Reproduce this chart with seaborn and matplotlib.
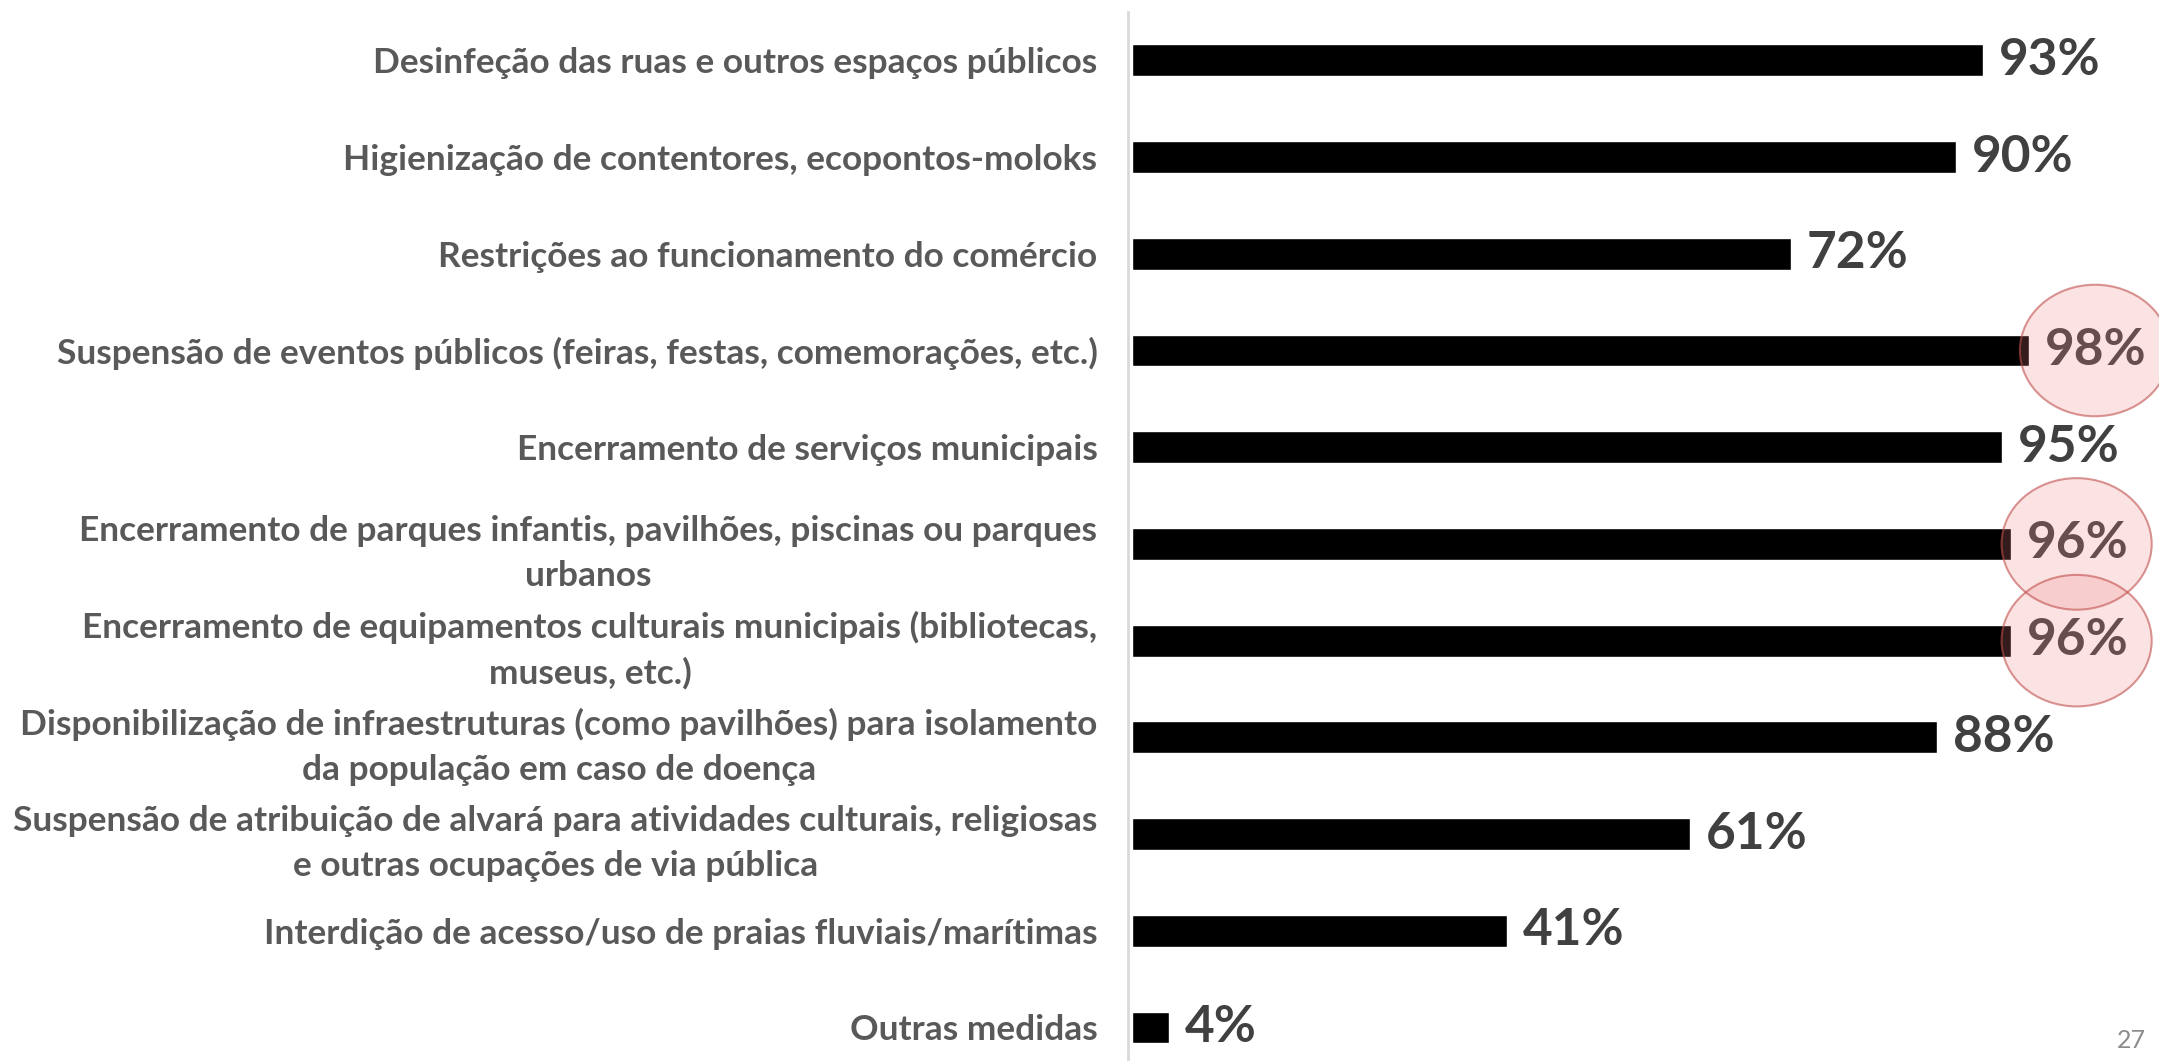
import matplotlib
matplotlib.use("Agg")
import matplotlib.pyplot as plt
from matplotlib.patches import Ellipse
import seaborn as sns
import pandas as pd

medidas = [
    "Desinfeção das ruas e outros espaços públicos",
    "Higienização de contentores, ecopontos-moloks",
    "Restrições ao funcionamento do comércio",
    "Suspensão de eventos públicos (feiras, festas, comemorações, etc.)",
    "Encerramento de serviços municipais",
    "Encerramento de parques infantis, pavilhões, piscinas ou parques\nurbanos",
    "Encerramento de equipamentos culturais municipais (bibliotecas,\nmuseus, etc.)",
    "Disponibilização de infraestruturas (como pavilhões) para isolamento\nda população em caso de doença",
    "Suspensão de atribuição de alvará para atividades culturais, religiosas\ne outras ocupações de via pública",
    "Interdição de acesso/uso de praias fluviais/marítimas",
    "Outras medidas",
]
percent = [93, 90, 72, 98, 95, 96, 96, 88, 61, 41, 4]
destaque = [False, False, False, True, False, True, True, False, False, False, False]
page_number = "27"

df = pd.DataFrame({"medida": medidas, "pct": percent})

sns.set_style("white")
plt.rcParams["font.family"] = ["Lato", "DejaVu Sans"]

fig = plt.figure(figsize=(21.59, 10.61), dpi=100)
ax = fig.add_axes([1128 / 2159, -0.014, 1 - 1128 / 2159, 1.0027])

sns.barplot(data=df, x="pct", y="medida", color="black", width=0.33,
            saturation=1, ax=ax, orient="h")

ax.set_xlim(-0.44, 112.2)
ax.set_ylim(10.5, -0.5)
ax.set_xlabel("")
ax.set_ylabel("")
ax.set_xticks([])
for s in ["top", "right", "bottom"]:
    ax.spines[s].set_visible(False)
ax.spines["left"].set_color("#d9d9d9")
ax.spines["left"].set_linewidth(2)

ax.tick_params(axis="y", length=0, pad=22)
for lab in ax.get_yticklabels():
    lab.set_fontsize(25.4)
    lab.set_fontweight("bold")
    lab.set_color("#595959")
    lab.set_multialignment("center")
    lab.set_linespacing(1.5)

for i, v in enumerate(percent):
    ax.annotate(f"{v}%", xy=(v, i), xytext=(16, 0), textcoords="offset pixels",
                ha="left", va="center", fontsize=37, fontweight="bold",
                color="#404040")

for i, (v, d) in enumerate(zip(percent, destaque)):
    if d:
        ax.add_patch(Ellipse((v + 7.2, i), 16.4, 1.36, facecolor="#f08080",
                             alpha=0.22, edgecolor="none", zorder=5))
        ax.add_patch(Ellipse((v + 7.2, i), 16.4, 1.36, facecolor="none",
                             edgecolor="#c0504d", alpha=0.6, linewidth=1.5,
                             zorder=6))

fig.text(2131 / 2159, 1 - 1041 / 1061, page_number, ha="center", va="center",
         fontsize=18, color="#8c8c8c")

fig.savefig("out.png", dpi=100)
